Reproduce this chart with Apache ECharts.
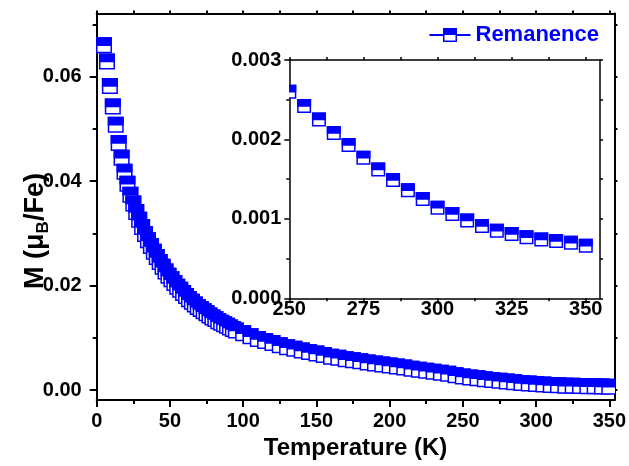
<!DOCTYPE html>
<html><head><meta charset="utf-8">
<script src="https://cdn.jsdelivr.net/npm/echarts@6/dist/echarts.min.js"></script>
<style>html,body{margin:0;padding:0;background:#fff}#c{width:629px;height:466px}</style>
</head><body><div id="c"></div>
<script>
// ---- data ----
const mainT = [5,7,9,11,13,15,17,19,21,23,25,27,29,31,33,35,37,39,41,43,45,47,49,51,53,55,57,59,61,63,65,67,69,71,73,75,77,79,81,83,85,87,89,91,93,95,
  100,105,110,115,120,125,130,135,140,145,150,155,160,165,170,175,180,185,190,195,200,205,210,215,220,225,230,235,240,245,
  250,255,260,265,270,275,280,285,290,295,300,305,310,315,320,325,330,335,340,345,350];
const mainM = [0.0660,0.0629,0.0582,0.0543,0.0508,0.0473,0.0445,0.0418,0.0395,0.0374,0.0357,0.0341,0.0326,0.0312,0.0299,0.0287,0.0276,0.0265,0.0255,0.0245,0.0236,0.0227,0.0219,0.0212,0.0205,0.0198,0.0192,0.0186,0.0180,0.0174,0.0169,0.0164,0.0159,0.0155,0.0151,0.0147,0.0143,0.0139,0.0136,0.0132,0.0129,0.0126,0.0123,0.0120,0.0117,0.0114,
  0.0109,0.0103,0.0098,0.0094,0.0090,0.0086,0.0082,0.0079,0.0076,0.0073,0.0070,0.0067,0.0064,0.0062,0.0059,0.0057,0.0055,0.0053,0.0051,0.0049,0.0047,0.0045,0.0043,0.0041,0.0039,0.0037,0.0035,0.0033,0.00312,0.00285,
  0.00260,0.00242,0.00225,0.00208,0.00193,0.00177,0.00162,0.00149,0.00136,0.00125,0.00114,0.00106,0.00098,0.00091,0.00085,0.00081,0.00077,0.00074,0.00072,0.00070,0.00066];
const insetT = [250,255,260,265,270,275,280,285,290,295,300,305,310,315,320,325,330,335,340,345,350];
const insetM = [0.00260,0.00242,0.00225,0.00208,0.00193,0.00177,0.00162,0.00149,0.00136,0.00125,0.00114,0.00106,0.00098,0.00091,0.00085,0.00081,0.00077,0.00074,0.00072,0.00070,0.00066];
const mainXTicks = [0,50,100,150,200,250,300,350];
const mainXMinor = [25,75,125,175,225,275,325];
const mainYTicks = [0,0.02,0.04,0.06];
const mainYMinor = [0.01,0.03,0.05,0.07];
const insetXTicks = [250,275,300,325,350];
const insetXMinor = [262.5,287.5,312.5,337.5];
const insetYTicks = [0,0.001,0.002,0.003];
const insetYMinor = [0.0005,0.0015,0.0025];
const seriesName = 'Remanence';
const xTitle = 'Temperature (K)';
const yTitle = 'M (μ{s|B}/Fe)';

// ---- rendering ----
const FONT = '"Liberation Sans", Arial, sans-serif';
const BLUE = '#0000ff';
const chart = echarts.init(document.getElementById('c'), null, {renderer:'canvas'});

function markerRender(size){
  return function(params, api){
    const p = api.coord([api.value(0), api.value(1)]);
    const h = size/2;
    return {type:'group', children:[
      {type:'rect', shape:{x:p[0]-h, y:p[1]-h, width:size, height:size}, style:{fill:'#fff', stroke:BLUE, lineWidth:1.5}},
      {type:'rect', shape:{x:p[0]-h, y:p[1]-h, width:size, height:h}, style:{fill:BLUE, stroke:BLUE, lineWidth:1.5}}
    ]};
  };
}

function axis(o){
  const a = {
    type:'value', gridIndex:o.grid, position:o.pos, min:o.min, max:o.max,
    splitLine:{show:false},
    axisLine:{show:o.line!==false, onZero:false, lineStyle:{color:'#000', width:o.lw}},
    axisTick:{show:true, inside:false, length:o.tl, customValues:o.ticks, lineStyle:{color:'#000', width:o.lw}},
    axisLabel:{show:!!o.labels, customValues:o.labels, margin:o.margin||8, color:'#000',
      fontSize:20, fontWeight:'bold', fontFamily:FONT, formatter:o.fmt}
  };
  if (o.name) Object.assign(a, o.name);
  return a;
}

const legendIcon = 'path://M0,6H13.5V8H0Z M27.5,6H41V8H27.5Z M13.5,0H27.5V14H13.5Z M15,7V12.5H26V7Z';

const option = {
  backgroundColor:'#fff',
  animation:false,
  grid:[
    {left:96.7, top:13.5, width:518.3, height:386.5},
    {left:289.3, top:60, width:310.7, height:238.3}
  ],
  legend:{
    data:[{name:seriesName, icon:legendIcon}],
    right:25, top:19, itemWidth:41, itemHeight:14, itemGap:7,
    textStyle:{color:BLUE, fontSize:22, fontWeight:'bold', fontFamily:FONT}
  },
  graphic:[
    {type:'text', x:36, y:231, rotation:Math.PI/2,
      style:{text:yTitle, fill:'#000', font:'bold 27px '+FONT, align:'center', verticalAlign:'middle', lineHeight:32,
        rich:{s:{fontSize:17, fontWeight:'bold', fontFamily:FONT, fill:'#000', lineHeight:12, verticalAlign:'bottom'}}}}
  ],
  xAxis:[
    axis({grid:0,pos:'bottom',min:0,max:353.5,lw:2,tl:7,ticks:mainXTicks,labels:mainXTicks,margin:11,
      fmt:v=>String(Math.round(v)),
      name:{name:xTitle, nameLocation:'middle', nameGap:32,
        nameTextStyle:{fontSize:24, fontWeight:'bold', fontFamily:FONT, color:'#000'}}}),
    axis({grid:0,pos:'bottom',min:0,max:353.5,lw:2,tl:4,ticks:mainXMinor,line:false}),
    axis({grid:0,pos:'top',min:0,max:353.5,lw:2,tl:3,ticks:mainXTicks.concat(mainXMinor)}),
    axis({grid:1,pos:'bottom',min:250,max:354.8,lw:1.5,tl:5,ticks:insetXTicks,labels:insetXTicks,margin:1,
      fmt:v=>String(Math.round(v))}),
    axis({grid:1,pos:'bottom',min:250,max:354.8,lw:1.5,tl:3,ticks:insetXMinor,line:false}),
    axis({grid:1,pos:'top',min:250,max:354.8,lw:1.5,tl:3,ticks:insetXTicks.concat(insetXMinor)})
  ],
  yAxis:[
    axis({grid:0,pos:'left',min:-0.0019,max:0.0721,lw:2,tl:7,ticks:mainYTicks,labels:mainYTicks,margin:15,
      fmt:v=>v.toFixed(2)}),
    axis({grid:0,pos:'left',min:-0.0019,max:0.0721,lw:2,tl:4,ticks:mainYMinor,line:false}),
    axis({grid:0,pos:'right',min:-0.0019,max:0.0721,lw:2,tl:3,ticks:mainYTicks.concat(mainYMinor)}),
    axis({grid:1,pos:'left',min:0,max:0.003,lw:1.5,tl:5,ticks:insetYTicks,labels:insetYTicks,margin:8,
      fmt:v=>v.toFixed(3)}),
    axis({grid:1,pos:'left',min:0,max:0.003,lw:1.5,tl:3,ticks:insetYMinor,line:false}),
    axis({grid:1,pos:'right',min:0,max:0.003,lw:1.5,tl:3,ticks:insetYTicks.concat(insetYMinor)})
  ],
  series:[
    {type:'custom', name:seriesName, xAxisIndex:0, yAxisIndex:0, clip:true,
      itemStyle:{color:BLUE},
      data:mainT.map((t,i)=>[t, mainM[i]]), renderItem:markerRender(14.5)},
    {type:'custom', name:'inset', xAxisIndex:3, yAxisIndex:3, clip:true,
      itemStyle:{color:BLUE},
      data:insetT.map((t,i)=>[t, insetM[i]]), renderItem:markerRender(12.5)}
  ]
};
chart.setOption(option);
</script>
</body></html>
